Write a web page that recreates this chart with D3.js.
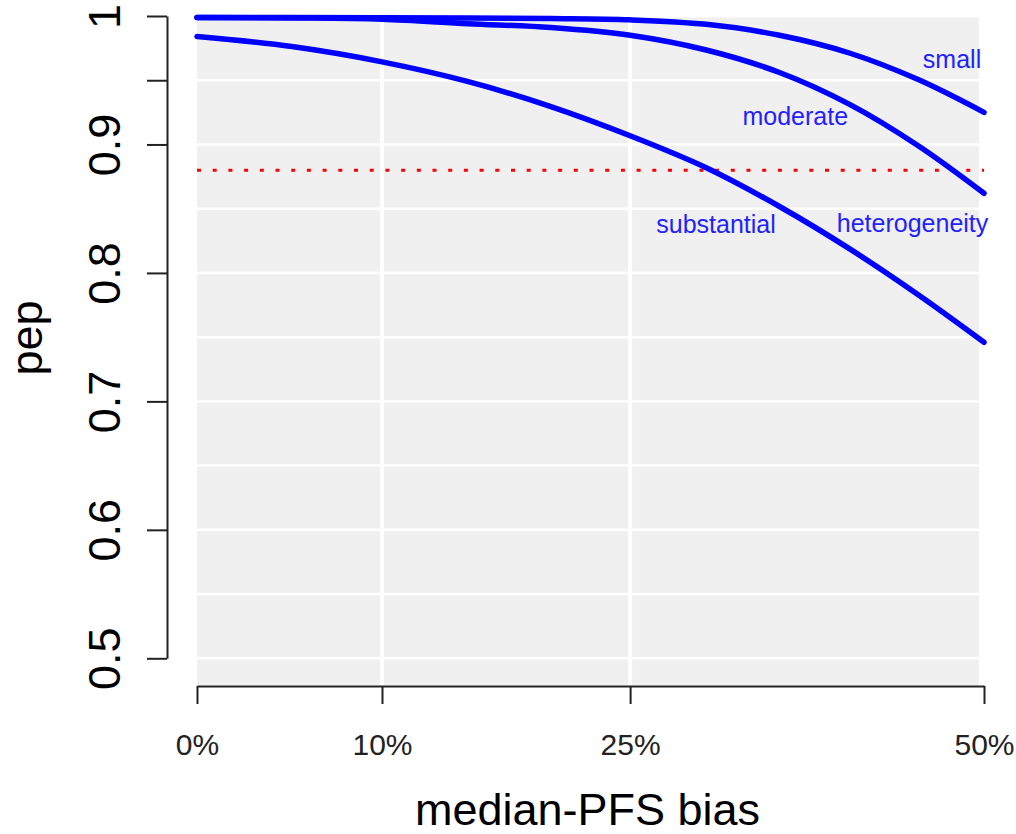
<!DOCTYPE html>
<html>
<head>
<meta charset="utf-8">
<script src="https://cdn.jsdelivr.net/npm/d3@7"></script>
<style>
  html, body { margin: 0; padding: 0; background: #ffffff; }
  svg { display: block; }
  text { font-family: "Liberation Sans", Arial, sans-serif; }
</style>
</head>
<body>
<svg id="chart" width="1016" height="834"></svg>
<script>
// ---- data ----
const bias = [0, 0.05, 0.10, 0.15, 0.20, 0.25, 0.30, 0.35, 0.40, 0.45, 0.50];
const pepSmall = [0.9988, 0.9988, 0.9987, 0.9985, 0.998, 0.997, 0.9935, 0.985, 0.971, 0.9505, 0.925];
const pepModerate = [0.9988, 0.9985, 0.9975, 0.994, 0.991, 0.985, 0.9735, 0.956, 0.931, 0.899, 0.862];
const pepSubstantial = [0.984, 0.9762, 0.9643, 0.9489, 0.9295, 0.9068, 0.8819, 0.8517, 0.8185, 0.783, 0.746];
const threshold = 0.88;

const xTickValues = [0, 0.10, 0.25, 0.50];
const xTickLabels = ["0%", "10%", "25%", "50%"];
const yTickValues = [0.5, 0.6, 0.7, 0.8, 0.9, 0.95, 1];
const yTickLabels = ["0.5", "0.6", "0.7", "0.8", "0.9", "", "1"];
const yGridValues = [0.5, 0.55, 0.6, 0.65, 0.7, 0.75, 0.8, 0.85, 0.9, 0.95];
const xGridValues = [0.10, 0.25];

const labelTexts = ["small", "moderate", "substantial", "heterogeneity"];
const labelBias = [0.4755, 0.361, 0.3066, 0.4458];
const labelPep = [0.9595, 0.9152, 0.8311, 0.8319];

// ---- layout ----
const svg = d3.select("#chart");
const plotLeft = 197, plotRight = 984, plotTop = 16, plotBottom = 658.3;
const panelRight = 979, panelTop = 17.5, panelBottom = 685;

const xLog = d3.scaleLog().domain([1, 1.5]).range([plotLeft, plotRight]);
const x = b => xLog(1 + b);
const y = d3.scaleLinear().domain([0.5, 1]).range([plotBottom, plotTop]);

// panel background
svg.append("rect")
  .attr("x", plotLeft).attr("y", panelTop)
  .attr("width", panelRight - plotLeft).attr("height", panelBottom - panelTop)
  .attr("fill", "#f0f0f0");

// grid
svg.append("g").selectAll("line").data(yGridValues).join("line")
  .attr("x1", plotLeft).attr("x2", panelRight)
  .attr("y1", d => y(d)).attr("y2", d => y(d))
  .attr("stroke", "#ffffff").attr("stroke-width", 2.5);
svg.append("g").selectAll("line").data(xGridValues).join("line")
  .attr("x1", d => x(d)).attr("x2", d => x(d))
  .attr("y1", panelTop).attr("y2", panelBottom)
  .attr("stroke", "#ffffff").attr("stroke-width", 4);

// threshold line
svg.append("line")
  .attr("x1", x(0)).attr("x2", x(0.5))
  .attr("y1", y(threshold)).attr("y2", y(threshold))
  .attr("stroke", "#ff0000").attr("stroke-width", 3)
  .attr("stroke-dasharray", "4,11.7");

// curves
const line = d3.line().x(d => x(d[0])).y(d => y(d[1])).curve(d3.curveCatmullRom.alpha(0.5));
[pepSmall, pepModerate, pepSubstantial].forEach(vals => {
  svg.append("path")
    .datum(bias.map((b, i) => [b, vals[i]]))
    .attr("d", line)
    .attr("fill", "none")
    .attr("stroke", "#0000ff")
    .attr("stroke-width", 5.5)
    .attr("stroke-linejoin", "round")
    .attr("stroke-linecap", "round");
});

// curve labels
svg.append("g").selectAll("text").data(labelTexts).join("text")
  .attr("x", (d, i) => x(labelBias[i]))
  .attr("y", (d, i) => y(labelPep[i]))
  .attr("text-anchor", "middle")
  .attr("font-size", 25)
  .attr("fill", "#2222ff")
  .text(d => d);

// y axis
const yAxis = d3.axisLeft(y)
  .tickValues(yTickValues)
  .tickFormat((d, i) => yTickLabels[i])
  .tickSize(20).tickSizeOuter(0);
const gy = svg.append("g").attr("transform", "translate(167,0)").call(yAxis);
gy.select(".domain").attr("stroke", "#222").attr("stroke-width", 2);
gy.selectAll(".tick line").attr("stroke", "#222").attr("stroke-width", 2);
gy.selectAll(".tick text")
  .attr("x", 0).attr("dy", 0)
  .attr("transform", "translate(-47,0) rotate(-90)")
  .attr("text-anchor", "middle")
  .attr("font-size", 45)
  .attr("font-family", "Liberation Sans, Arial, sans-serif")
  .attr("fill", "#000");

// x axis
const xAxis = d3.axisBottom(xLog)
  .tickValues(xTickValues.map(b => 1 + b))
  .tickFormat((d, i) => xTickLabels[i])
  .tickSize(18).tickSizeOuter(0);
const gx = svg.append("g").attr("transform", "translate(0,686)").call(xAxis);
gx.select(".domain").attr("stroke", "#222").attr("stroke-width", 2);
gx.selectAll(".tick line").attr("stroke", "#222").attr("stroke-width", 2);
gx.selectAll(".tick text")
  .attr("y", 69).attr("dy", 0)
  .attr("font-size", 30)
  .attr("font-family", "Liberation Sans, Arial, sans-serif")
  .attr("fill", "#222");

// axis titles
svg.append("text")
  .attr("x", (plotLeft + plotRight) / 2 - 3).attr("y", 825)
  .attr("text-anchor", "middle")
  .attr("font-size", 45)
  .attr("fill", "#000")
  .text("median-PFS bias");
svg.append("text")
  .attr("transform", "translate(42,338) rotate(-90)")
  .attr("text-anchor", "middle")
  .attr("font-size", 45)
  .attr("fill", "#000")
  .text("pep");
</script>
</body>
</html>
